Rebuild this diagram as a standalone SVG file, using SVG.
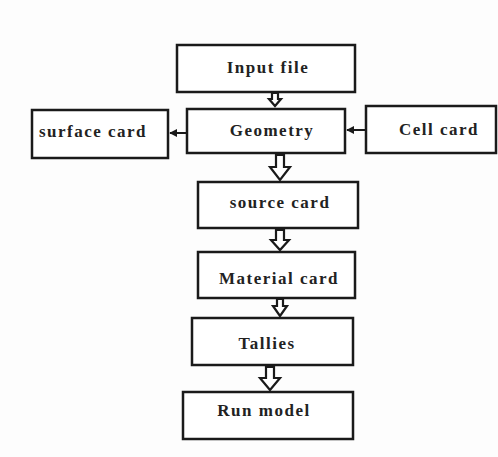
<svg xmlns="http://www.w3.org/2000/svg" width="498" height="457" viewBox="0 0 498 457">
<style>
.box{fill:#fff;stroke:#1a1a1a;stroke-width:2.5}
.lbl{font-family:"Liberation Serif","DejaVu Serif","Times New Roman",serif;font-weight:bold;font-size:17px;letter-spacing:1.5px;fill:#222;text-anchor:middle;dominant-baseline:central}
.ba{fill:#fff;stroke:#1a1a1a;stroke-width:2.2}
.ln{stroke:#1a1a1a;stroke-width:2;fill:none}
</style>
<defs>
<marker id="ah" viewBox="0 0 10 10" refX="9" refY="5" markerWidth="4" markerHeight="4" orient="auto">
<path d="M10,5 L0,0 L0,10 Z" fill="#1a1a1a"/>
</marker>
</defs>
<rect width="498" height="457" fill="#fdfdfd"/>
<g id="input"><rect class="box" x="177" y="45" width="178" height="47"/><text class="lbl" x="268" y="67">Input file</text></g>
<g id="geometry"><rect class="box" x="187" y="109" width="158" height="44"/><text class="lbl" x="272" y="130">Geometry</text></g>
<g id="surface"><rect class="box" x="32" y="110" width="136" height="48"/><text class="lbl" x="93" y="131">surface card</text></g>
<g id="cell"><rect class="box" x="366" y="106" width="130" height="47"/><text class="lbl" x="439" y="129">Cell card</text></g>
<g id="source"><rect class="box" x="198" y="182" width="160" height="46"/><text class="lbl" x="280" y="202">source card</text></g>
<g id="material"><rect class="box" x="198" y="252" width="157" height="46"/><text class="lbl" x="279" y="278">Material card</text></g>
<g id="tallies"><rect class="box" x="192" y="318" width="161" height="47"/><text class="lbl" x="267" y="343">Tallies</text></g>
<g id="run"><rect class="box" x="183" y="392" width="170" height="47"/><text class="lbl" x="264" y="410">Run model</text></g>
<g id="connectors">
<path class="ba" d="M272,93 L278,93 L278,99 L281,99 L275,106 L269,99 L272,99 Z"/>
<path class="ba" d="M276,155 L284,155 L284,167 L290,167 L280,180 L270,167 L276,167 Z"/>
<path class="ba" d="M276,230 L284,230 L284,240 L289,240 L280,250 L271,240 L276,240 Z"/>
<path class="ba" d="M277,299 L283,299 L283,306 L287,306 L280,316 L273,306 L277,306 Z"/>
<path class="ba" d="M266,367 L274,367 L274,378 L280,378 L270,390 L260,378 L266,378 Z"/>
<path class="ln" d="M186,133 L170,133" marker-end="url(#ah)"/>
<path class="ln" d="M365,130 L347,130" marker-end="url(#ah)"/>
</g>
</svg>
